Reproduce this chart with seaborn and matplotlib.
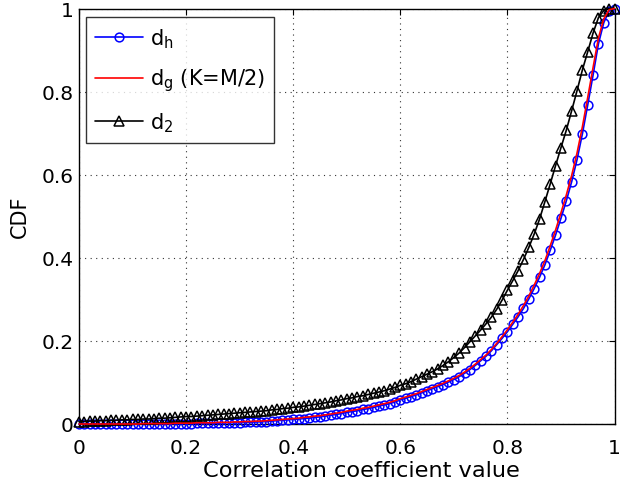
import numpy as np
import pandas as pd
import matplotlib
matplotlib.use("Agg")
import matplotlib.pyplot as plt
import seaborn as sns

# Correlation coefficient grid (marker positions)
rho = [round(0.01 * i, 2) for i in range(101)]

# CDF of d_h
cdf_dh = [
    0.000, 0.000, 0.000, 0.000, 0.000, 0.000, 0.000, 0.000, 0.000, 0.000,
    0.000, 0.000, 0.000, 0.001, 0.001, 0.001, 0.001, 0.001, 0.001, 0.001,
    0.001, 0.001, 0.002, 0.002, 0.002, 0.002, 0.002, 0.003, 0.003, 0.003,
    0.003, 0.004, 0.004, 0.005, 0.005, 0.006, 0.007, 0.008, 0.009, 0.010,
    0.011, 0.012, 0.013, 0.014, 0.016, 0.017, 0.019, 0.021, 0.023, 0.025,
    0.028, 0.030, 0.032, 0.035, 0.037, 0.040, 0.043, 0.046, 0.049, 0.053,
    0.058, 0.062, 0.066, 0.070, 0.075, 0.080, 0.085, 0.090, 0.095, 0.101,
    0.107, 0.114, 0.122, 0.131, 0.141, 0.152, 0.163, 0.176, 0.191, 0.206,
    0.222, 0.240, 0.258, 0.278, 0.301, 0.326, 0.353, 0.383, 0.418, 0.455,
    0.495, 0.537, 0.583, 0.636, 0.698, 0.768, 0.840, 0.915, 0.966, 0.994,
    1.000,
]

# CDF of d_g (K = M/2)
cdf_dg = [
    0.000, 0.000, 0.000, 0.000, 0.000, 0.000, 0.000, 0.000, 0.000, 0.000,
    0.000, 0.000, 0.001, 0.001, 0.001, 0.001, 0.001, 0.001, 0.002, 0.002,
    0.002, 0.002, 0.003, 0.003, 0.003, 0.003, 0.004, 0.004, 0.004, 0.005,
    0.005, 0.006, 0.006, 0.007, 0.007, 0.008, 0.009, 0.010, 0.011, 0.012,
    0.013, 0.014, 0.016, 0.017, 0.019, 0.020, 0.022, 0.024, 0.026, 0.028,
    0.031, 0.033, 0.035, 0.038, 0.040, 0.043, 0.046, 0.049, 0.052, 0.056,
    0.061, 0.065, 0.069, 0.073, 0.078, 0.083, 0.088, 0.093, 0.098, 0.104,
    0.110, 0.117, 0.125, 0.134, 0.144, 0.155, 0.166, 0.179, 0.194, 0.210,
    0.227, 0.245, 0.264, 0.285, 0.308, 0.334, 0.362, 0.393, 0.429, 0.467,
    0.508, 0.551, 0.598, 0.652, 0.715, 0.786, 0.858, 0.929, 0.975, 0.997,
    1.000,
]

# CDF of d_2
cdf_d2 = [
    0.006, 0.006, 0.007, 0.007, 0.008, 0.008, 0.009, 0.009, 0.010, 0.010,
    0.011, 0.011, 0.012, 0.012, 0.013, 0.014, 0.014, 0.015, 0.016, 0.017,
    0.018, 0.018, 0.019, 0.020, 0.021, 0.022, 0.023, 0.024, 0.025, 0.026,
    0.027, 0.028, 0.029, 0.030, 0.031, 0.032, 0.034, 0.035, 0.037, 0.038,
    0.040, 0.041, 0.043, 0.045, 0.047, 0.049, 0.051, 0.053, 0.056, 0.058,
    0.061, 0.063, 0.066, 0.068, 0.071, 0.074, 0.077, 0.080, 0.084, 0.088,
    0.093, 0.097, 0.102, 0.108, 0.114, 0.120, 0.126, 0.133, 0.141, 0.150,
    0.160, 0.171, 0.184, 0.198, 0.212, 0.226, 0.241, 0.257, 0.276, 0.298,
    0.322, 0.345, 0.369, 0.396, 0.425, 0.457, 0.493, 0.535, 0.578, 0.622,
    0.665, 0.707, 0.754, 0.802, 0.852, 0.896, 0.941, 0.978, 0.995, 1.000,
    1.000,
]

x_ticks = [0, 0.2, 0.4, 0.6, 0.8, 1]
y_ticks = [0, 0.2, 0.4, 0.6, 0.8, 1]
tick_labels = ["0", "0.2", "0.4", "0.6", "0.8", "1"]

df = pd.DataFrame({"rho": rho, "dh": cdf_dh, "dg": cdf_dg, "d2": cdf_d2})

sns.set_style("white")
plt.rcParams["font.family"] = ["DejaVu Sans"]
plt.rcParams["mathtext.fontset"] = "dejavusans"
plt.rcParams["text.color"] = "black"
plt.rcParams["axes.labelcolor"] = "black"

W, H = 620, 485
fig = plt.figure(figsize=(W / 100, H / 100), dpi=100)
ax = fig.add_axes([79 / W, 1 - 425 / H, (614.5 - 79) / W, (425 - 9.5) / H])

sns.lineplot(data=df, x="rho", y="dh", ax=ax, color="#0000ff", lw=1.2,
             marker="o", markersize=6.3, markerfacecolor="none",
             markeredgecolor="#0000ff", markeredgewidth=1.1,
             label=r"$\mathregular{d_h}$", clip_on=False, zorder=3)
sns.lineplot(data=df, x="rho", y="dg", ax=ax, color="#ff0000", lw=1.2,
             label=r"$\mathregular{d_g}$ (K=M/2)", clip_on=False, zorder=4)
sns.lineplot(data=df, x="rho", y="d2", ax=ax, color="black", lw=1.2,
             marker="^", markersize=7.2, markerfacecolor="none",
             markeredgecolor="black", markeredgewidth=1.1,
             label=r"$\mathregular{d_2}$", clip_on=False, zorder=3)

ax.set_xlim(0, 1)
ax.set_ylim(0, 1)
ax.set_xticks(x_ticks)
ax.set_yticks(y_ticks)
ax.set_xticklabels(tick_labels)
ax.set_yticklabels(tick_labels)
ax.tick_params(direction="in", length=4, width=0.8, top=True, right=True,
               labelsize=14.5, colors="black")
ax.tick_params(axis="x", pad=10)
ax.tick_params(axis="y", pad=4)
for s in ax.spines.values():
    s.set_color("black")
    s.set_linewidth(1.0)
ax.grid(True, linestyle=(0, (1, 4)), color="#333333", linewidth=0.8)

ax.set_xlabel("Correlation coefficient value", fontsize=16.2, color="black")
ax.xaxis.set_label_coords(0.528, -0.087)
ax.xaxis.label.set_va("top")
ax.set_ylabel("CDF", fontsize=15, labelpad=8, color="black")

leg = ax.legend(loc="upper left", bbox_to_anchor=(86 / W, 1 - 18 / H),
                bbox_transform=fig.transFigure, fontsize=15,
                frameon=True, fancybox=False, edgecolor="black",
                handlelength=2.3, handletextpad=0.3, borderpad=0.45,
                labelspacing=0.8, borderaxespad=0.0)
leg.get_frame().set_linewidth(1.0)
for t in leg.get_texts():
    t.set_color("black")

fig.savefig("out.png", dpi=100)
